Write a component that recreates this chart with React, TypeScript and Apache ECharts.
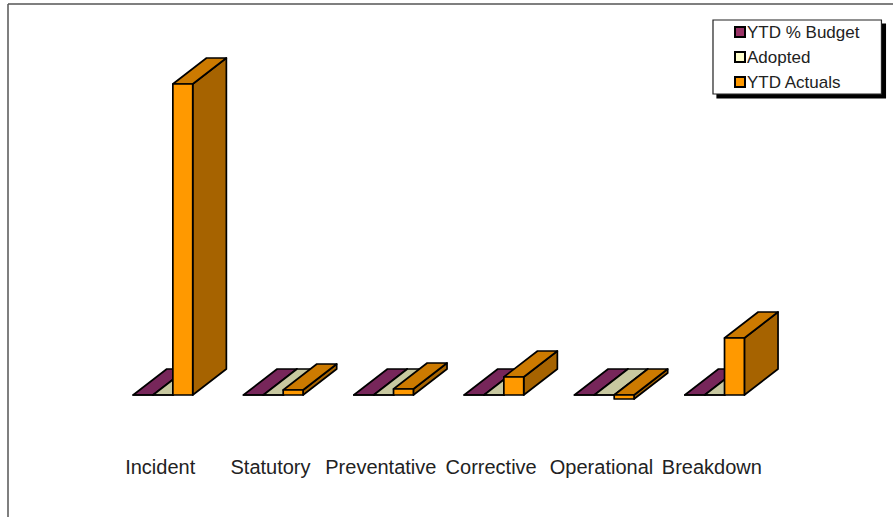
import React, { useEffect, useRef } from "react";
import * as echarts from "echarts";

const categories = ["Incident", "Statutory", "Preventative", "Corrective", "Operational", "Breakdown"];
const ytdBudget = [0, 0, 0, 0, 0, 0];
const adopted = [0, 0, 0, 0, 0, 0];
const ytdActuals = [311, 5, 6, 18, -4, 57];

const FONT = '"Liberation Sans", Arial, sans-serif';

function box3d(slot: number, front: string, top: string, side: string) {
  return (_: any, api: any) => {
    const [cx, zeroY] = api.coord([api.value(0), 0]);
    const valueY = api.coord([api.value(0), api.value(1)])[1];
    const band = api.size([1, 0])[0];
    const w = band * 0.18;
    const dx = band * 0.305;
    const dy = 26;
    const x0 = cx - band * 0.245 + slot * w;
    const x1 = x0 + w;
    const yTop = Math.min(zeroY, valueY);
    const yBot = Math.max(zeroY, valueY);
    const style = (fill: string) => ({ fill, stroke: "#000", lineWidth: 1.7, lineJoin: "round" });
    return {
      type: "group",
      children: [
        {
          type: "polygon",
          shape: { points: [[x1, yTop], [x1 + dx, yTop - dy], [x1 + dx, yBot - dy], [x1, yBot]] },
          style: style(side),
        },
        {
          type: "polygon",
          shape: { points: [[x0, yTop], [x0 + dx, yTop - dy], [x1 + dx, yTop - dy], [x1, yTop]] },
          style: style(top),
        },
        {
          type: "polygon",
          shape: { points: [[x0, yTop], [x1, yTop], [x1, yBot], [x0, yBot]] },
          style: style(front),
        },
      ],
    };
  };
}

function series3d(name: string, values: number[], slot: number, legendColor: string, front: string, top: string, side: string) {
  return {
    name,
    type: "custom",
    coordinateSystem: "cartesian2d",
    itemStyle: { color: legendColor },
    encode: { x: 0, y: 1 },
    data: values.map((v, i) => [i, v]),
    renderItem: box3d(slot, front, top, side),
    clip: false,
  };
}

export default function App() {
  const ref = useRef<HTMLDivElement>(null);
  useEffect(() => {
    const chart = echarts.init(ref.current!, undefined, { renderer: "svg" });
    chart.setOption({
      animation: false,
      backgroundColor: "#fff",
      textStyle: { fontFamily: FONT },
      grid: { left: 105, right: 126, top: 45, bottom: 112 },
      xAxis: {
        type: "category",
        data: categories,
        axisLine: { show: false },
        axisTick: { show: false },
        axisLabel: { interval: 0, margin: 52, fontSize: 20, color: "#222", fontFamily: FONT, hideOverlap: false },
      },
      yAxis: { type: "value", min: -10, max: 350, show: false, splitLine: { show: false } },
      legend: {
        orient: "vertical",
        left: 713,
        top: 20,
        padding: [3, 22, 3, 21],
        itemGap: 7,
        itemWidth: 10,
        itemHeight: 10,
        icon: "rect",
        align: "left",
        backgroundColor: "#fff",
        borderColor: "#222",
        borderWidth: 1.2,
        shadowColor: "#000",
        shadowOffsetX: 4,
        shadowOffsetY: 4,
        shadowBlur: 0,
        selectedMode: false,
        itemStyle: { borderColor: "#000", borderWidth: 2 },
        textStyle: { fontSize: 17, color: "#222", fontFamily: FONT, padding: [0, 0, 0, -3], lineHeight: 18 },
      },
      graphic: [
        { type: "line", silent: true, shape: { x1: 8, y1: 4, x2: 893, y2: 4 }, style: { stroke: "#555", lineWidth: 1.5 } },
        { type: "line", silent: true, shape: { x1: 8, y1: 4, x2: 8, y2: 517 }, style: { stroke: "#555", lineWidth: 1.5 } },
      ],
      series: [
        series3d("YTD % Budget", ytdBudget, 0, "#993366", "#993366", "#77265A", "#5E1E47"),
        series3d("Adopted", adopted, 1, "#FFFFCC", "#FFFFCC", "#C8C8A0", "#A0A080"),
        series3d("YTD Actuals", ytdActuals, 2, "#FF9900", "#FF9900", "#CC7A00", "#A66300"),
      ],
    });
    return () => chart.dispose();
  }, []);
  return <div ref={ref} style={{ position: "absolute", left: 0, top: 0, width: 893, height: 517 }} />;
}
